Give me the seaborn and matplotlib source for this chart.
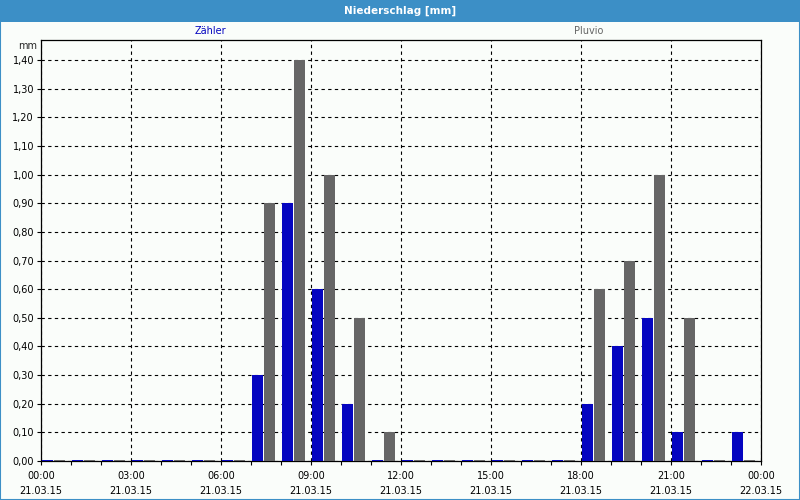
import pandas as pd
import seaborn as sns
import matplotlib.pyplot as plt
from matplotlib.patches import Rectangle

# hourly precipitation, 21.03.15 00:00 .. 22.03.15 00:00
hours = list(range(24))
zaehler = [0, 0, 0, 0, 0, 0, 0, 0.30, 0.90, 0.60, 0.20, 0,
           0, 0, 0, 0, 0, 0, 0.20, 0.40, 0.50, 0.10, 0, 0.10]
pluvio = [0, 0, 0, 0, 0, 0, 0, 0.90, 1.40, 1.00, 0.50, 0.10,
          0, 0, 0, 0, 0, 0, 0.60, 0.70, 1.00, 0.50, 0, 0]
series_names = ['Zähler', 'Pluvio']
series_colors = ['#0505c0', '#666666']
tick_hours = [0, 3, 6, 9, 12, 15, 18, 21, 24]
tick_labels = ['00:00\n21.03.15', '03:00\n21.03.15', '06:00\n21.03.15',
               '09:00\n21.03.15', '12:00\n21.03.15', '15:00\n21.03.15',
               '18:00\n21.03.15', '21:00\n21.03.15', '00:00\n22.03.15']
y_ticks = [0.0, 0.1, 0.2, 0.3, 0.4, 0.5, 0.6, 0.7, 0.8, 0.9, 1.0, 1.1, 1.2, 1.3, 1.4]
title = 'Niederschlag [mm]'
unit = 'mm'

sns.set_theme(style='white')
plt.rcParams['font.family'] = ['DejaVu Sans']
plt.rcParams['font.size'] = 7

bg = '#fafdfa'
bar_color = '#3c8fc6'

df = pd.DataFrame({
    'pos': [h + 0.41 for h in hours] * 2,
    'value': zaehler + pluvio,
    'series': [series_names[0]] * len(hours) + [series_names[1]] * len(hours),
})

fig = plt.figure(figsize=(8, 5), dpi=100, facecolor=bg)
ax = fig.add_axes([41 / 800, 1 - 461 / 500, 720 / 800, 421 / 500])
ax.set_facecolor(bg)

sns.barplot(data=df, x='pos', y='value', hue='series', hue_order=series_names,
            palette=series_colors, native_scale=True, width=0.82, gap=0.1,
            saturation=1, legend=False, errorbar=None, ax=ax, zorder=3)

for p in ax.patches:
    if p.get_height() == 0:
        p.set_edgecolor(p.get_facecolor())
        p.set_linewidth(1.4)
    else:
        p.set_linewidth(0)

ax.set_xlim(0, 24)
ax.set_ylim(0, 1.47)
ax.set_xticks(tick_hours)
ax.set_xticklabels(tick_labels, linespacing=1.7)
ax.set_xticks(hours, minor=True)
ax.set_yticks(y_ticks)
ax.set_yticklabels([f'{v:.2f}'.replace('.', ',') for v in y_ticks])
ax.set_xlabel('')
ax.set_ylabel('')

ax.tick_params(axis='both', which='both', direction='out', length=3, width=0.8,
               color='black', labelcolor='black', labelsize=7, pad=2,
               bottom=True, left=True)
ax.tick_params(axis='x', which='major', pad=4)

ax.grid(True, axis='both', which='major', color='black',
        linestyle=(0, (3, 3)), linewidth=0.8)
ax.set_axisbelow(True)
for s in ax.spines.values():
    s.set_visible(True)
    s.set_color('black')
    s.set_linewidth(0.9)

# unit and series labels
fig.text(37 / 800, 1 - 46 / 500, unit, ha='right', va='center', fontsize=7)
fig.text(210 / 800, 1 - 31 / 500, series_names[0], ha='center', va='center',
         fontsize=7, color=series_colors[0])
fig.text(589 / 800, 1 - 31 / 500, series_names[1], ha='center', va='center',
         fontsize=7, color=series_colors[1])

# title bar and window border
fig.add_artist(Rectangle((0, 1 - 22 / 500), 1, 22 / 500, transform=fig.transFigure,
                         facecolor=bar_color, edgecolor='none'))
fig.text(0.5, 1 - 11 / 500, title, ha='center', va='center', fontsize=7.5,
         fontweight='bold', color='white')
fig.add_artist(Rectangle((0, 0), 1, 1, transform=fig.transFigure, fill=False,
                         edgecolor=bar_color, linewidth=1.5))

fig.savefig('out.png', dpi=100, facecolor=bg)
